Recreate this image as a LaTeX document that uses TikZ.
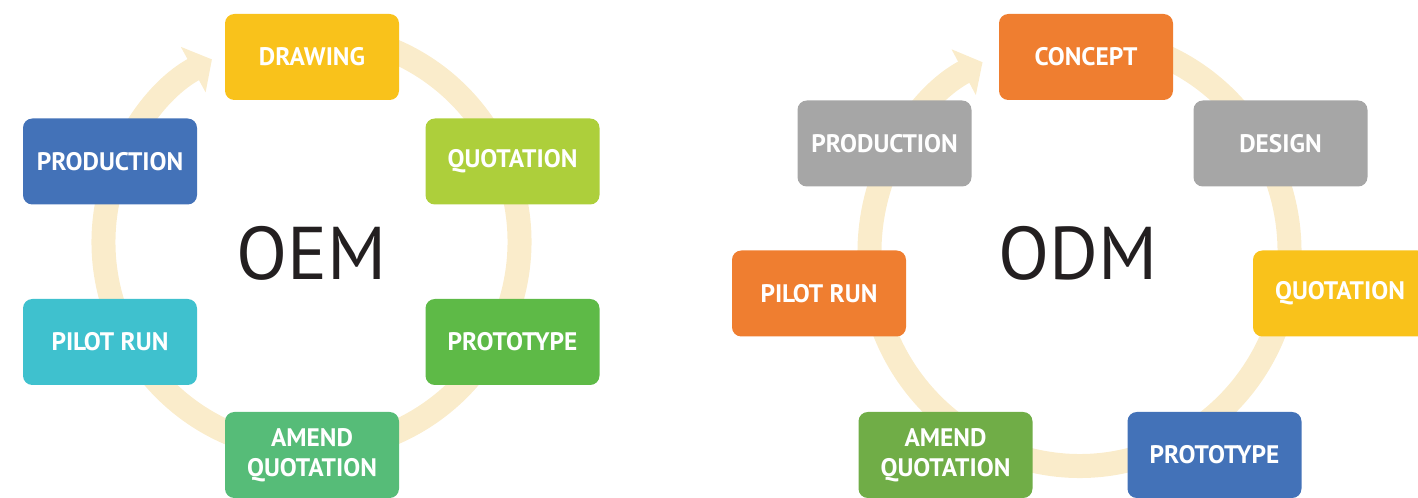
\documentclass[tikz,border=0pt]{standalone}
\usepackage{fontspec}
\setmainfont{PT Sans}
\usetikzlibrary{arrows.meta}

\begin{document}
\begin{tikzpicture}[x=0.75pt,y=0.75pt,yscale=-1,xscale=1,
  stagebox/.style={rounded corners=7pt,minimum width=130.5pt,minimum height=64.5pt,inner sep=0pt,align=center,text=white,font=\bfseries\fontsize{19}{22.5}\selectfont},
  cyclering/.style={color={rgb, 255:red, 250; green, 236; blue, 203 },line width=18pt,-{Triangle[width=38pt,length=16pt]}},
  bigtitle/.style={text={rgb, 255:red, 35; green, 31; blue, 32 },font=\fontsize{56}{60}\selectfont}]
%set diagram size to 1418 x 498
\useasboundingbox (0,0) rectangle (1418,498);
\clip (0,0) rectangle (1418,498);

%Centres of the two cycles
\coordinate (oemc) at (311.5,242);
\coordinate (odmc) at (1079.5,252);

%Curve Lines: OEM cycle
\draw [cyclering] ([shift={(-80:208)}]oemc) arc [start angle=-80, end angle=241.4, radius=208];
%Curve Lines: ODM cycle
\draw [cyclering] ([shift={(-80:210 and 214)}]odmc) arc [start angle=-80, end angle=242.5, x radius=210, y radius=214];

%Shape: Rounded Rect -- OEM steps
\node [stagebox, fill={rgb, 255:red, 249; green, 194; blue, 27 }] (oemdrawing) at (312,57) {DRAWING};
\node [stagebox, fill={rgb, 255:red, 173; green, 207; blue, 59 }] (oemquotation) at (512.5,161.5) {QUOTATION};
\node [stagebox, fill={rgb, 255:red, 94; green, 186; blue, 71 }] (oemprototype) at (512.5,342) {PROTOTYPE};
\node [stagebox, fill={rgb, 255:red, 86; green, 188; blue, 120 }] (oemamend) at (312,455) {AMEND\\QUOTATION};
\node [stagebox, fill={rgb, 255:red, 63; green, 193; blue, 206 }] (oempilot) at (110,342) {PILOT RUN};
\node [stagebox, fill={rgb, 255:red, 67; green, 114; blue, 184 }] (oemproduction) at (110,161.5) {PRODUCTION};

%Shape: Rounded Rect -- ODM steps
\node [stagebox, fill={rgb, 255:red, 239; green, 126; blue, 48 }] (odmconcept) at (1086,57) {CONCEPT};
\node [stagebox, fill={rgb, 255:red, 166; green, 166; blue, 166 }] (odmdesign) at (1280.5,143.5) {DESIGN};
\node [stagebox, fill={rgb, 255:red, 249; green, 194; blue, 27 }] (odmquotation) at (1340,293.5) {QUOTATION};
\node [stagebox, fill={rgb, 255:red, 67; green, 114; blue, 184 }] (odmprototype) at (1214.5,455) {PROTOTYPE};
\node [stagebox, fill={rgb, 255:red, 112; green, 173; blue, 71 }] (odmamend) at (945.5,455) {AMEND\\QUOTATION};
\node [stagebox, fill={rgb, 255:red, 239; green, 126; blue, 48 }] (odmpilot) at (819,293.5) {PILOT RUN};
\node [stagebox, fill={rgb, 255:red, 166; green, 166; blue, 166 }] (odmproduction) at (884.5,143.5) {PRODUCTION};

% Text Node
\node [bigtitle] (oemtitle) at (311.5,253) {OEM};
% Text Node
\node [bigtitle] (odmtitle) at (1078,253) {ODM};

\end{tikzpicture}
\end{document}
